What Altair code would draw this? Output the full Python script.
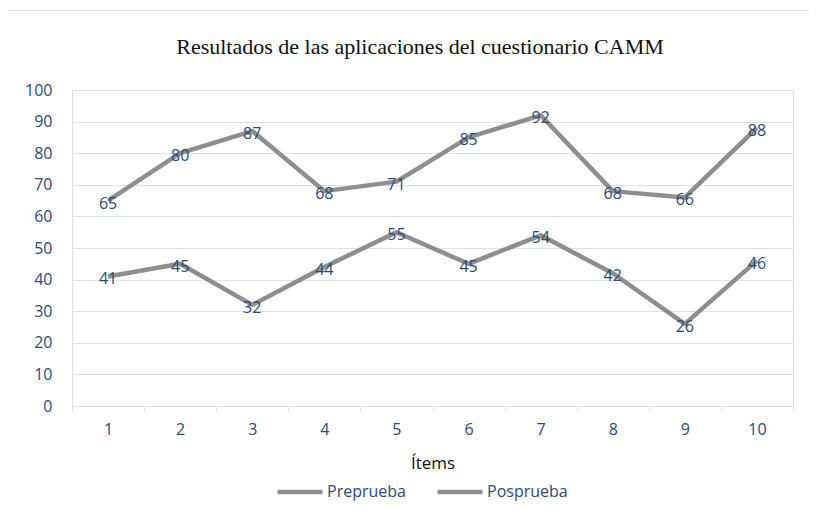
import altair as alt
import pandas as pd

items = [1, 2, 3, 4, 5, 6, 7, 8, 9, 10]
preprueba = [41, 45, 32, 44, 55, 45, 54, 42, 26, 46]
posprueba = [65, 80, 87, 68, 71, 85, 92, 68, 66, 88]
series_names = ["Preprueba", "Posprueba"]
y_ticks = list(range(0, 101, 10))
title_text = "Resultados de las aplicaciones del cuestionario CAMM"

rows = []
for name, vals in zip(series_names, [preprueba, posprueba]):
    for it, v in zip(items, vals):
        rows.append({"Ítem": it, "Valor": v, "Serie": name})
df = pd.DataFrame(rows)

W, H = 721, 316
BLUE = "#2b4a78"
GRID = "#dae4f1"
FONT = "Open Sans"

x_scale = alt.Scale(type="band", paddingInner=0, paddingOuter=0)
y_scale = alt.Scale(domain=[0, 100], nice=False)

x_enc = alt.X(
    "Ítem:O",
    sort=items,
    bandPosition=0.5,
    scale=x_scale,
    axis=alt.Axis(
        title="Ítems", titleFont=FONT, titleFontSize=17, titleFontWeight="normal",
        titleColor="#111111", titlePadding=18,
        labelAngle=0, labelFont=FONT, labelFontSize=16, labelColor=BLUE, labelPadding=10,
        tickBand="extent", tickColor=GRID, tickSize=5, domainColor=GRID, grid=False,
    ),
)
y_enc = alt.Y(
    "Valor:Q",
    scale=y_scale,
    axis=alt.Axis(
        values=y_ticks, title=None, labelFont=FONT, labelFontSize=16,
        labelColor=BLUE, labelPadding=20, ticks=False, domain=False,
        gridColor=GRID, labelOverlap=False,
    ),
)

base = alt.Chart(df)

lines = base.mark_line(strokeWidth=4.5, strokeJoin="round").encode(
    x=x_enc,
    y=y_enc,
    color=alt.Color(
        "Serie:N",
        sort=series_names,
        scale=alt.Scale(domain=series_names, range=["#8e8e8e", "#8e8e8e"]),
        legend=alt.Legend(
            title=None, orient="none", legendX=203, legendY=377, direction="horizontal",
            symbolType="stroke", symbolStrokeWidth=4.5, symbolSize=2025,
            labelFont=FONT, labelFontSize=16, labelColor=BLUE, labelOffset=2,
            columnPadding=22,
        ),
    ),
    detail="Serie:N",
)

labels = base.mark_text(font=FONT, fontSize=16, color=BLUE, baseline="middle", dy=3).encode(
    x=alt.X("Ítem:O", sort=items, bandPosition=0.5, scale=x_scale, axis=None),
    y=alt.Y("Valor:Q", scale=y_scale, axis=None),
    text="Valor:Q",
)

one = pd.DataFrame({"a": [0]})
left_border = alt.Chart(one).mark_rule(color="#d6e2f0", strokeWidth=1).encode(
    x=alt.value(-64.5), y=alt.value(-79.5), y2=alt.value(H + 130)
)
top_border = alt.Chart(one).mark_rule(color="#d6e2f0", strokeWidth=1).encode(
    x=alt.value(-64.5), x2=alt.value(W + 40), y=alt.value(-79.5)
)
title = alt.Chart(one).mark_text(
    font="Liberation Serif", fontSize=22, color="#111111", baseline="middle", align="center"
).encode(
    x=alt.value(348), y=alt.value(-43), text=alt.value(title_text)
)

chart = alt.layer(lines, labels, left_border, top_border, title).resolve_axis(
    x="independent", y="independent"
).properties(
    width=W,
    height=H,
    autosize=alt.AutoSizeParams(type="none"),
    padding={"left": 64, "top": 82, "right": 16, "bottom": 100},
).configure_view(strokeWidth=0, stroke="transparent").configure(background="white")

chart.save("out.html", embed_options={"renderer": "svg", "actions": False})
